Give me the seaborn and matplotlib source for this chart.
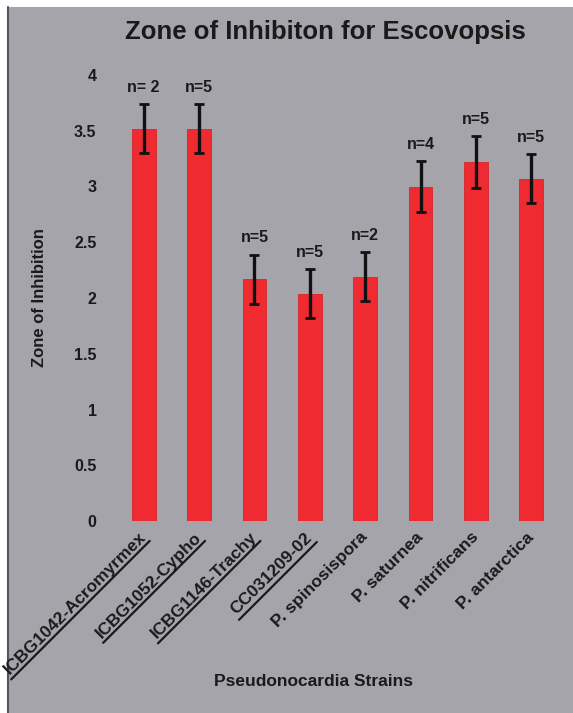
import numpy as np
import pandas as pd
import seaborn as sns
from matplotlib import pyplot as plt
from matplotlib.lines import Line2D
from matplotlib.patches import Rectangle

strains = ['ICBG1042-Acromyrmex', 'ICBG1052-Cypho', 'ICBG1146-Trachy', 'CC031209-02',
           'P. spinosispora', 'P. saturnea', 'P. nitrificans', 'P. antarctica']
zone = [3.52, 3.52, 2.17, 2.04, 2.19, 3.00, 3.22, 3.07]
zone_err = [0.22, 0.22, 0.22, 0.22, 0.22, 0.23, 0.23, 0.22]
n_labels = ['n= 2', 'n=5', 'n=5', 'n=5', 'n=2', 'n=4', 'n=5', 'n=5']
underlined = [True, True, True, True, False, False, False, False]
y_ticks = [0, 0.5, 1, 1.5, 2, 2.5, 3, 3.5, 4]
y_tick_labels = ['0', '0.5', '1', '1.5', '2', '2.5', '3', '3.5', '4']

BG = '#a6a4ab'
BAR = '#ef2a30'

sns.set_style('white')
plt.rcParams['font.family'] = ['Liberation Sans', 'DejaVu Sans']
plt.rcParams['font.weight'] = 'bold'

df = pd.DataFrame({'Strain': strains, 'Zone': zone})

fig = plt.figure(figsize=(5.73, 7.13), dpi=100, facecolor='white')
# scanned-slide look: gray panel with a thin white margin top/left
fig.add_artist(Rectangle((8 / 573, 0), 1, 1 - 7 / 713, transform=fig.transFigure,
                         facecolor=BG, edgecolor='none', zorder=-10))
fig.add_artist(Line2D([8 / 573, 8 / 573], [0, 1 - 7 / 713], transform=fig.transFigure,
                      color='#55545a', lw=1.5, zorder=-9))

ax = fig.add_axes([116 / 573, 1 - 521 / 713, 443 / 573, 446 / 713])
ax.set_facecolor('none')

sns.barplot(data=df, x='Strain', y='Zone', color=BAR, saturation=1, width=0.43,
            errorbar=None, edgecolor='#d8262b', linewidth=0.6, ax=ax)
xpos = np.arange(len(strains))
ax.errorbar(xpos, zone, yerr=zone_err, fmt='none', ecolor='#111111',
            elinewidth=2.4, capsize=3.5, capthick=2, zorder=5)

for x, y, e, lab in zip(xpos, zone, zone_err, n_labels):
    ax.annotate(lab, (x, y + e), xytext=(0, 12), textcoords='offset points',
                ha='center', va='center', fontsize=11.5, fontweight='bold', color='#1a1a1a')

ax.set_ylim(0, 4)
ax.set_xlim(-0.5, len(strains) - 0.5)
ax.set_yticks(y_ticks)
ax.set_yticklabels(y_tick_labels, fontsize=11.5, fontweight='bold', color='#1a1a1a')
ax.set_xticks(xpos)
ax.set_xticklabels(strains, rotation=45, ha='right', va='center', rotation_mode='anchor',
                   fontsize=12.5, fontweight='bold', color='#1a1a1a')
ax.tick_params(axis='y', length=0, pad=14)
ax.tick_params(axis='x', length=0, pad=10)
sns.despine(ax=ax, left=True, bottom=True)
ax.set_xlabel('')
ax.set_ylabel('')

fig.text(325 / 573, 1 - 32 / 713, 'Zone of Inhibiton for Escovopsis', ha='center', va='center',
         fontsize=18.5, fontweight='bold', color='#1a1a1a')
fig.text(40 / 573, 1 - 298 / 713, 'Zone of Inhibition', rotation=90, ha='center', va='center',
         fontsize=12, fontweight='bold', color='#1a1a1a')
fig.text(313 / 573, 1 - 681 / 713, 'Pseudonocardia Strains', ha='center', va='center',
         fontsize=12.5, fontweight='bold', color='#1a1a1a')

# underline the first strain labels along their 45 degree baseline
fig.canvas.draw()
renderer = fig.canvas.get_renderer()
to_fig = fig.transFigure.inverted()
u = np.array([np.cos(np.pi / 4), np.sin(np.pi / 4)])
nrm = np.array([np.sin(np.pi / 4), -np.cos(np.pi / 4)])
for lbl, flag in zip(ax.get_xticklabels(), underlined):
    if not flag:
        continue
    w, h, d = renderer.get_text_width_height_descent(lbl.get_text(), lbl.get_fontproperties(), ismath=False)
    anchor = np.array(lbl.get_transform().transform(lbl.get_position()))
    base = anchor + nrm * (h / 2 - d + 4)
    start = base - u * (w + 2)
    pts = to_fig.transform(np.vstack([start, base]))
    fig.add_artist(Line2D(pts[:, 0], pts[:, 1], transform=fig.transFigure,
                          color='#1a1a1a', lw=1.6))

fig.savefig('out.png', dpi=100, facecolor=fig.get_facecolor())
